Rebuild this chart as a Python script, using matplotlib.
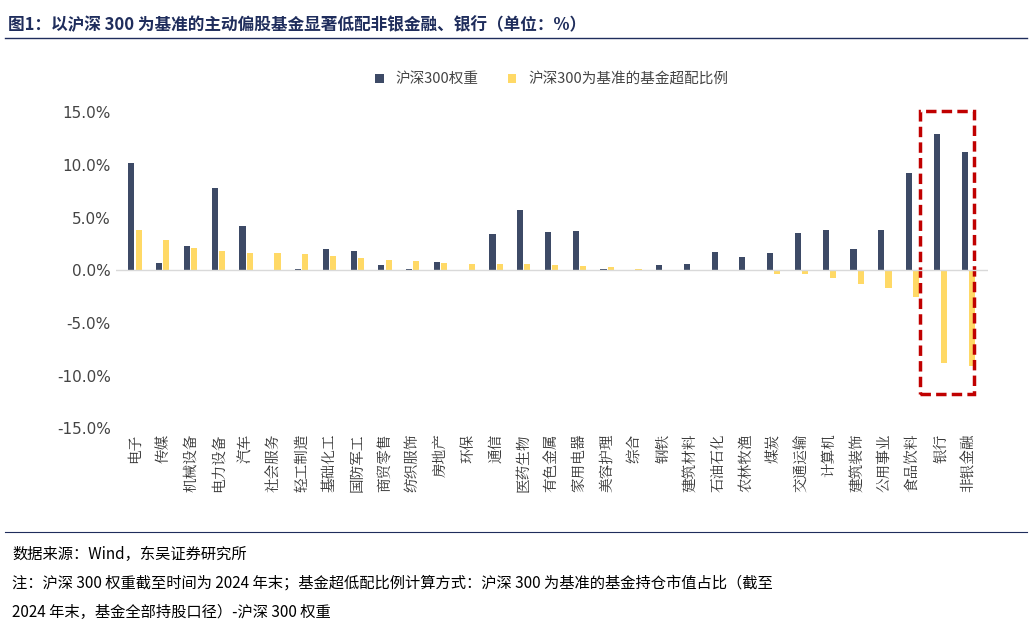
import matplotlib
matplotlib.use("Agg")
import matplotlib.pyplot as plt
from matplotlib.patches import Rectangle
import numpy as np

plt.rcParams['font.family'] = ['Noto Sans CJK SC']

categories = ["电子","传媒","机械设备","电力设备","汽车","社会服务","轻工制造","基础化工","国防军工","商贸零售",
              "纺织服饰","房地产","环保","通信","医药生物","有色金属","家用电器","美容护理","综合","钢铁",
              "建筑材料","石油石化","农林牧渔","煤炭","交通运输","计算机","建筑装饰","公用事业","食品饮料","银行","非银金融"]
weights = [10.2,0.7,2.3,7.8,4.2,0.05,0.15,2.0,1.8,0.5,0.1,0.8,0.05,3.4,5.7,3.6,3.7,0.1,0.0,0.5,
           0.6,1.7,1.3,1.6,3.5,3.8,2.0,3.8,9.2,12.9,11.2]
excess = [3.8,2.9,2.1,1.8,1.6,1.6,1.5,1.4,1.2,1.0,0.9,0.7,0.6,0.6,0.6,0.5,0.4,0.3,0.1,0.05,
          0.0,0.0,-0.05,-0.4,-0.4,-0.7,-1.3,-1.7,-2.5,-8.8,-9.1]
series_names = ["沪深300权重","沪深300为基准的基金超配比例"]

fig = plt.figure(figsize=(10.32,6.3), dpi=100)
ax = fig.add_axes([0.112, 0.32, 0.845, 0.502])
x = np.arange(len(categories))
w = 0.22
ax.bar(x-0.13, weights, w, color="#3d4a66", label=series_names[0])
ax.bar(x+0.13, excess, w, color="#ffd966", label=series_names[1])
ax.set_ylim(-15,15)
ax.set_xlim(-0.7, len(categories)-0.3)
ax.set_yticks(np.arange(-15,16,5))
ax.set_yticklabels([f"{v:.1f}%" for v in np.arange(-15,16,5)], fontsize=11, color="#444444", fontfamily="DejaVu Sans")
ax.set_xticks(x)
ax.set_xticklabels(categories, rotation=90, fontsize=10.5, color="#333333", fontfamily="Noto Serif CJK SC")
ax.axhline(0, color="#d9d9d9", lw=1)
for s in ax.spines.values(): s.set_visible(False)
ax.tick_params(length=0)
ax.legend(loc="lower center", bbox_to_anchor=(0.5,1.04), ncol=2, frameon=False, fontsize=10.5,
          handlelength=0.6, handleheight=0.6, labelcolor="#444444")
rect = Rectangle((28.25,-11.7), 1.95, 26.8, fill=False, ec="#c00000", lw=2.5, ls=(0,(3,1.5)), clip_on=False)
ax.add_patch(rect)

fig.text(0.008, 0.975, "图1：以沪深 300 为基准的主动偏股基金显著低配非银金融、银行（单位：%）", fontsize=12, fontweight="bold", color="#1f2d5c", va="top")
fig.add_artist(plt.Line2D([0.005,0.995],[0.94,0.94], color="#1f2d5c", lw=1))
fig.add_artist(plt.Line2D([0.005,0.995],[0.155,0.155], color="#1f2d5c", lw=0.8))
fig.text(0.012, 0.12, "数据来源：Wind，东吴证券研究所", fontsize=11, va="center")
fig.text(0.012, 0.075, "注：沪深 300 权重截至时间为 2024 年末；基金超低配比例计算方式：沪深 300 为基准的基金持仓市值占比（截至", fontsize=11, va="center")
fig.text(0.012, 0.028, "2024 年末，基金全部持股口径）-沪深 300 权重", fontsize=11, va="center")
fig.savefig("out.png", dpi=100)
